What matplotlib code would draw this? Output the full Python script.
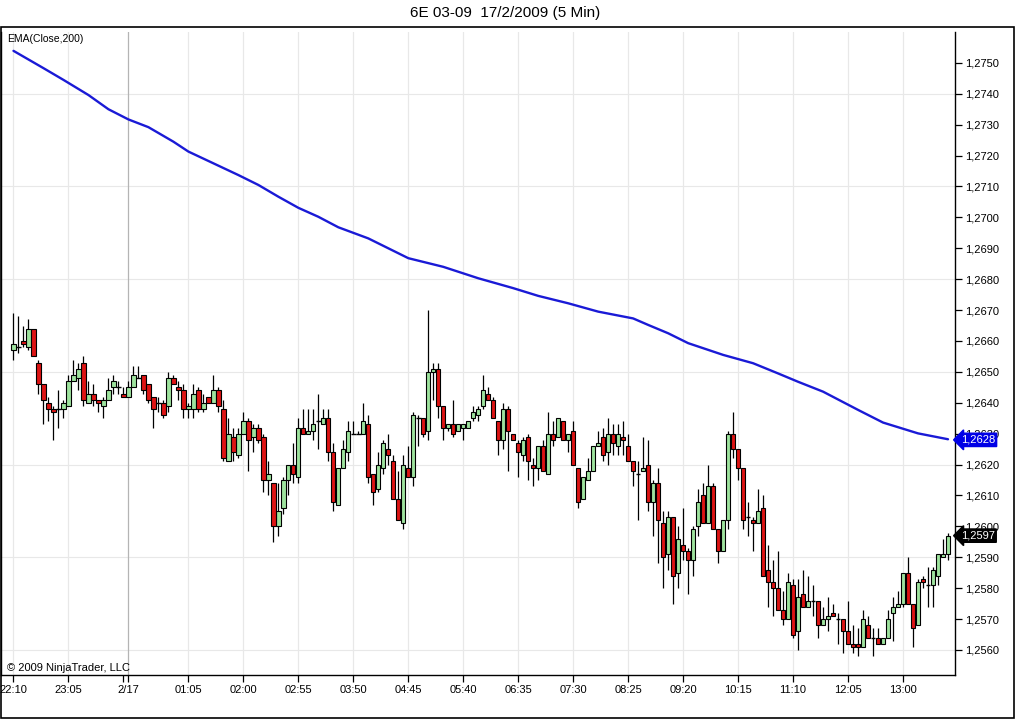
import numpy as np
import matplotlib.pyplot as plt
import matplotlib.transforms as mtransforms
from matplotlib.patches import Rectangle
from matplotlib.ticker import FuncFormatter

plt.rcParams['font.family'] = ['Liberation Sans', 'DejaVu Sans']

# 5-min bars of 6E 03-09, 22:10 (16/2) .. 13:45 (17/2)
opens = [
    1.2657, 1.2658, 1.2660, 1.2658, 1.2664, 1.2653, 1.2646, 1.2640, 1.2638, 1.2638, 1.2638, 1.2639,
    1.2647, 1.2648, 1.2653, 1.2640, 1.2643, 1.2641, 1.2639, 1.2641, 1.2645, 1.2645, 1.2643, 1.2642,
    1.2645, 1.2648, 1.2649, 1.2646, 1.2642, 1.2640, 1.2640, 1.2639, 1.2648, 1.2645, 1.2644, 1.2638,
    1.2638, 1.2644, 1.2638, 1.2642, 1.2640, 1.2644, 1.2638, 1.2621, 1.2629, 1.2623, 1.2630, 1.2634,
    1.2629, 1.2632, 1.2629, 1.2615, 1.2614, 1.2600, 1.2606, 1.2615, 1.2620, 1.2616, 1.2632, 1.2630,
    1.2631, 1.2634, 1.2633, 1.2635, 1.2624, 1.2607, 1.2619, 1.2624, 1.2630, 1.2630, 1.2630, 1.2633,
    1.2617, 1.2612, 1.2619, 1.2625, 1.2621, 1.2609, 1.2601, 1.2619, 1.2616, 1.2635, 1.2635, 1.2631,
    1.2650, 1.2651, 1.2639, 1.2632, 1.2633, 1.2631, 1.2632, 1.2632, 1.2635, 1.2636, 1.2639, 1.2643,
    1.2641, 1.2634, 1.2628, 1.2638, 1.2630, 1.2627, 1.2623, 1.2629, 1.2620, 1.2619, 1.2626, 1.2617,
    1.2630, 1.2629, 1.2634, 1.2628, 1.2631, 1.2619, 1.2609, 1.2615, 1.2618, 1.2626, 1.2629, 1.2624,
    1.2630, 1.2626, 1.2629, 1.2626, 1.2621, 1.2617, 1.2618, 1.2620, 1.2608, 1.2614, 1.2601, 1.2591,
    1.2603, 1.2585, 1.2594, 1.2592, 1.2589, 1.2600, 1.2610, 1.2601, 1.2613, 1.2599, 1.2592, 1.2602,
    1.2630, 1.2625, 1.2619, 1.2603, 1.2602, 1.2601, 1.2606, 1.2586, 1.2582, 1.2580, 1.2573, 1.2570,
    1.2581, 1.2566, 1.2578, 1.2574, 1.2576, 1.2576, 1.2568, 1.2570, 1.2572, 1.2570, 1.2570, 1.2566,
    1.2562, 1.2562, 1.2561, 1.2568, 1.2564, 1.2564, 1.2562, 1.2564, 1.2572, 1.2574, 1.2575, 1.2585,
    1.2575, 1.2568, 1.2583, 1.2581, 1.2581, 1.2584, 1.2590, 1.2591,
]
highs = [
    1.2669, 1.2668, 1.2665, 1.2667, 1.2664, 1.2654, 1.2646, 1.2642, 1.2639, 1.2644, 1.2641, 1.2649,
    1.2654, 1.2653, 1.2655, 1.2647, 1.2646, 1.2641, 1.2642, 1.2648, 1.2649, 1.2647, 1.2645, 1.2647,
    1.2652, 1.2652, 1.2649, 1.2646, 1.2642, 1.2642, 1.2641, 1.2650, 1.2649, 1.2647, 1.2646, 1.2640,
    1.2646, 1.2645, 1.2643, 1.2642, 1.2649, 1.2645, 1.2641, 1.2635, 1.2632, 1.2632, 1.2637, 1.2635,
    1.2633, 1.2633, 1.2630, 1.2621, 1.2614, 1.2614, 1.2616, 1.2620, 1.2627, 1.2635, 1.2638, 1.2638,
    1.2638, 1.2643, 1.2638, 1.2638, 1.2627, 1.2619, 1.2628, 1.2634, 1.2634, 1.2631, 1.2640, 1.2636,
    1.2617, 1.2624, 1.2628, 1.2630, 1.2623, 1.2618, 1.2623, 1.2626, 1.2637, 1.2636, 1.2635, 1.2670,
    1.2653, 1.2653, 1.2639, 1.2633, 1.2641, 1.2633, 1.2633, 1.2634, 1.2639, 1.2639, 1.2649, 1.2645,
    1.2642, 1.2634, 1.2640, 1.2639, 1.2630, 1.2628, 1.2629, 1.2630, 1.2622, 1.2626, 1.2628, 1.2637,
    1.2634, 1.2635, 1.2634, 1.2630, 1.2634, 1.2619, 1.2616, 1.2622, 1.2626, 1.2631, 1.2632, 1.2635,
    1.2633, 1.2633, 1.2634, 1.2630, 1.2621, 1.2621, 1.2629, 1.2628, 1.2615, 1.2619, 1.2605, 1.2605,
    1.2603, 1.2600, 1.2606, 1.2593, 1.2600, 1.2612, 1.2614, 1.2620, 1.2614, 1.2599, 1.2602, 1.2631,
    1.2637, 1.2625, 1.2619, 1.2608, 1.2603, 1.2612, 1.2610, 1.2594, 1.2589, 1.2592, 1.2579, 1.2585,
    1.2583, 1.2583, 1.2586, 1.2584, 1.2581, 1.2576, 1.2574, 1.2577, 1.2575, 1.2572, 1.2570, 1.2576,
    1.2568, 1.2567, 1.2573, 1.2571, 1.2567, 1.2567, 1.2564, 1.2573, 1.2577, 1.2579, 1.2585, 1.2590,
    1.2575, 1.2583, 1.2584, 1.2587, 1.2587, 1.2591, 1.2596, 1.2598,
]
lows = [
    1.2654, 1.2656, 1.2658, 1.2657, 1.2655, 1.2643, 1.2633, 1.2634, 1.2628, 1.2632, 1.2635, 1.2639,
    1.2647, 1.2644, 1.2639, 1.2640, 1.2639, 1.2637, 1.2635, 1.2641, 1.2643, 1.2643, 1.2642, 1.2642,
    1.2645, 1.2648, 1.2643, 1.2640, 1.2632, 1.2637, 1.2635, 1.2637, 1.2646, 1.2641, 1.2635, 1.2635,
    1.2635, 1.2637, 1.2637, 1.2640, 1.2640, 1.2637, 1.2621, 1.2621, 1.2621, 1.2622, 1.2630, 1.2618,
    1.2624, 1.2627, 1.2611, 1.2610, 1.2595, 1.2597, 1.2604, 1.2610, 1.2614, 1.2614, 1.2630, 1.2630,
    1.2628, 1.2625, 1.2633, 1.2621, 1.2605, 1.2607, 1.2619, 1.2621, 1.2630, 1.2630, 1.2630, 1.2614,
    1.2607, 1.2611, 1.2617, 1.2620, 1.2609, 1.2602, 1.2599, 1.2616, 1.2613, 1.2626, 1.2629, 1.2628,
    1.2641, 1.2635, 1.2628, 1.2631, 1.2629, 1.2631, 1.2628, 1.2632, 1.2634, 1.2634, 1.2638, 1.2641,
    1.2635, 1.2623, 1.2625, 1.2618, 1.2628, 1.2616, 1.2621, 1.2615, 1.2613, 1.2615, 1.2618, 1.2617,
    1.2626, 1.2629, 1.2628, 1.2624, 1.2620, 1.2606, 1.2609, 1.2615, 1.2618, 1.2626, 1.2621, 1.2620,
    1.2623, 1.2623, 1.2623, 1.2621, 1.2613, 1.2602, 1.2618, 1.2605, 1.2597, 1.2588, 1.2580, 1.2586,
    1.2575, 1.2580, 1.2589, 1.2578, 1.2584, 1.2597, 1.2601, 1.2601, 1.2599, 1.2588, 1.2592, 1.2599,
    1.2622, 1.2615, 1.2599, 1.2597, 1.2592, 1.2601, 1.2584, 1.2574, 1.2571, 1.2573, 1.2568, 1.2570,
    1.2564, 1.2560, 1.2574, 1.2574, 1.2571, 1.2564, 1.2568, 1.2566, 1.2571, 1.2562, 1.2559, 1.2562,
    1.2559, 1.2558, 1.2561, 1.2564, 1.2558, 1.2562, 1.2562, 1.2564, 1.2563, 1.2574, 1.2574, 1.2575,
    1.2561, 1.2568, 1.2580, 1.2574, 1.2574, 1.2581, 1.2590, 1.2589,
]
closes = [
    1.2659, 1.2658, 1.2659, 1.2664, 1.2655, 1.2646, 1.2641, 1.2638, 1.2637, 1.2638, 1.2640, 1.2647,
    1.2649, 1.2651, 1.2641, 1.2643, 1.2641, 1.2640, 1.2641, 1.2644, 1.2647, 1.2645, 1.2642, 1.2645,
    1.2649, 1.2648, 1.2644, 1.2641, 1.2638, 1.2640, 1.2636, 1.2648, 1.2646, 1.2644, 1.2638, 1.2639,
    1.2643, 1.2638, 1.2640, 1.2640, 1.2644, 1.2639, 1.2622, 1.2630, 1.2624, 1.2630, 1.2634, 1.2628,
    1.2632, 1.2628, 1.2615, 1.2617, 1.2600, 1.2605, 1.2615, 1.2620, 1.2617, 1.2632, 1.2630, 1.2631,
    1.2633, 1.2634, 1.2635, 1.2624, 1.2608, 1.2619, 1.2625, 1.2631, 1.2630, 1.2630, 1.2634, 1.2616,
    1.2611, 1.2620, 1.2627, 1.2623, 1.2609, 1.2602, 1.2620, 1.2616, 1.2636, 1.2635, 1.2630, 1.2650,
    1.2651, 1.2639, 1.2632, 1.2633, 1.2630, 1.2633, 1.2633, 1.2634, 1.2637, 1.2638, 1.2644, 1.2641,
    1.2635, 1.2628, 1.2638, 1.2631, 1.2628, 1.2624, 1.2628, 1.2621, 1.2619, 1.2626, 1.2618, 1.2630,
    1.2628, 1.2635, 1.2628, 1.2630, 1.2620, 1.2608, 1.2616, 1.2618, 1.2626, 1.2627, 1.2623, 1.2630,
    1.2627, 1.2630, 1.2628, 1.2621, 1.2618, 1.2617, 1.2619, 1.2608, 1.2614, 1.2602, 1.2590, 1.2603,
    1.2584, 1.2596, 1.2592, 1.2589, 1.2599, 1.2608, 1.2601, 1.2613, 1.2599, 1.2592, 1.2602, 1.2630,
    1.2625, 1.2619, 1.2602, 1.2603, 1.2601, 1.2605, 1.2584, 1.2582, 1.2580, 1.2573, 1.2570, 1.2582,
    1.2565, 1.2577, 1.2574, 1.2576, 1.2576, 1.2568, 1.2570, 1.2571, 1.2571, 1.2570, 1.2566, 1.2562,
    1.2561, 1.2561, 1.2570, 1.2564, 1.2564, 1.2562, 1.2564, 1.2570, 1.2574, 1.2575, 1.2585, 1.2575,
    1.2567, 1.2582, 1.2582, 1.2581, 1.2586, 1.2591, 1.2591, 1.2597,
]

# EMA(Close,200) at these bar numbers
ema_idx = [0, 6, 10, 15, 19, 23, 27, 32, 35, 40, 45, 49, 53, 57, 61, 65, 71, 75, 79,
           86, 93, 100, 105, 111, 117, 124, 127, 131, 135, 142, 148, 153, 157, 162,
           169, 174, 177, 181, 187]
ema_vals = [1.27539, 1.27483, 1.27445, 1.27396, 1.27350, 1.27317, 1.27292, 1.27245,
            1.27213, 1.27175, 1.27137, 1.27105, 1.27067, 1.27031, 1.27002, 1.26968,
            1.26932, 1.26900, 1.26868, 1.26840, 1.26803, 1.26771, 1.26746, 1.26722,
            1.26695, 1.26673, 1.26652, 1.26625, 1.26593, 1.26555, 1.26528, 1.26495,
            1.26468, 1.26436, 1.26377, 1.26336, 1.26321, 1.26301, 1.26282]

tick_idx = [0, 11, 23, 35, 46, 57, 68, 79, 90, 101, 112, 123, 134, 145, 156, 167, 178]
tick_labels = ['22:10', '23:05', '2/17', '01:05', '02:00', '02:55', '03:50', '04:45',
               '05:40', '06:35', '07:30', '08:25', '09:20', '10:15', '11:10', '12:05', '13:00']
day_break = 23

ema_last = 1.2628
last_close = closes[-1]

W, H = 1016, 719
fig = plt.figure(figsize=(W / 100, H / 100), dpi=100)
ax = fig.add_axes([0.5 / W, (H - 675) / H, 954.5 / W, (675 - 32) / H])

o = np.array(opens)
hi = np.array(highs)
lo = np.array(lows)
c = np.array(closes)
idx = np.arange(len(o))

# grid
for lev in np.arange(1.2560, 1.27501, 0.0030):
    ax.axhline(lev, color='#e8e8e8', lw=0.8, zorder=0)
for t in tick_idx:
    ax.axvline(t, color='#b4b4b4' if t == day_break else '#e8e8e8', lw=0.9, zorder=0)

# candles
ax.vlines(idx, lo, hi, color='black', lw=0.9, zorder=2)
up = c > o
dn = c < o
doji = c == o
ax.bar(idx[up], (c - o)[up], bottom=o[up], width=0.86, color='#9ee39e',
       edgecolor='black', linewidth=0.8, zorder=3)
ax.bar(idx[dn], (o - c)[dn], bottom=c[dn], width=0.86, color='#dd1414',
       edgecolor='black', linewidth=0.8, zorder=3)
ax.hlines(c[doji], idx[doji] - 0.45, idx[doji] + 0.45, color='black', lw=1.0, zorder=3)

# EMA
ax.plot(ema_idx, ema_vals, color='#1a1ad6', lw=1.7, zorder=4,
        solid_capstyle='round', solid_joinstyle='round')

ax.set_xlim(-2.6, 188.4)
ax.set_ylim(1.25519, 1.27600)

ax.set_xticks(tick_idx)
ax.set_xticklabels(tick_labels)
ax.set_xticks([day_break - 1], minor=True)
ax.set_yticks(np.arange(1.2560, 1.27501, 0.0010))
ax.yaxis.set_major_formatter(FuncFormatter(lambda v, p: f'{v:.4f}'.replace('.', ',')))
ax.yaxis.tick_right()
ax.tick_params(axis='both', which='both', direction='out', length=5, width=0.9,
               labelsize=8, colors='black', pad=2)
ax.spines['top'].set_visible(False)
for s in ['left', 'right', 'bottom']:
    ax.spines[s].set_linewidth(1.0)

# price tags on the right axis
trans = mtransforms.blended_transform_factory(ax.transAxes, ax.transData)
ax.text(1.006, ema_last, f'{ema_last:.4f}'.replace('.', ','), transform=trans,
        ha='left', va='center', color='white', fontsize=8, zorder=6, clip_on=False,
        bbox=dict(boxstyle='larrow,pad=0.15', fc='#0000e6', ec='#0000e6'))
ax.text(1.006, last_close, f'{last_close:.4f}'.replace('.', ','), transform=trans,
        ha='left', va='center', color='white', fontsize=8, zorder=6, clip_on=False,
        bbox=dict(boxstyle='larrow,pad=0.15', fc='black', ec='black'))

# texts
fig.text(505 / W, 1 - 13 / H, '6E 03-09  17/2/2009 (5 Min)', ha='center', va='center', fontsize=11)
fig.text(7 / W, 1 - 39 / H, 'EMA(Close,200)', ha='left', va='center', fontsize=7.5)
fig.text(7 / W, 1 - 668 / H, '\u00a9 2009 NinjaTrader, LLC', ha='left', va='center', fontsize=8)

# outer frame
fig.patches.append(Rectangle((0.5 / W, 0.8 / H), 1013 / W, (718 - 27) / H,
                             transform=fig.transFigure, fill=False, ec='black', lw=1.2))

fig.savefig('out.png', dpi=100)
